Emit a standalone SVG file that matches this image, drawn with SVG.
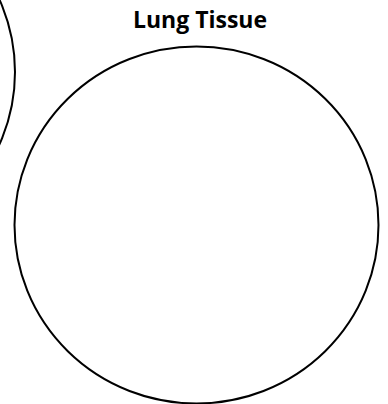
<svg xmlns="http://www.w3.org/2000/svg" width="388" height="404" viewBox="0 0 388 404">
<style>
.shape{fill:none;stroke:#000;stroke-width:2}
.title{font-family:"Open Sans","Liberation Sans",sans-serif;font-weight:bold;font-size:23px;fill:#000}
</style>
<rect width="388" height="404" fill="#fff"/>
<g id="left-circle"><ellipse class="shape" cx="-167" cy="72" rx="182" ry="179"/></g>
<g id="lung-tissue">
<text class="title" x="200" y="28" text-anchor="middle">Lung Tissue</text>
<ellipse class="shape" cx="196.5" cy="225" rx="182" ry="178.5"/>
</g>
<g id="connectors"/>
</svg>
